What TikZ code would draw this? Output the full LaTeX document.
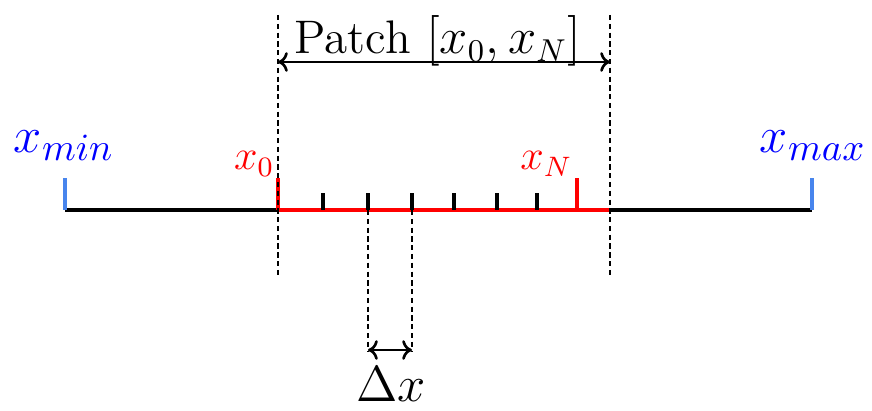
\documentclass[tikz,border=0pt]{standalone}
\usetikzlibrary{positioning,arrows.meta}
\definecolor{tickblue}{RGB}{72,133,237}
\tikzset{
  bound/.style={text=blue, font=\fontsize{15.6}{18}\selectfont},
  patchlab/.style={text=red, inner sep=0pt, font=\fontsize{11.8}{14}\selectfont},
  biglab/.style={font=\fontsize{13.4}{16}\selectfont},
  guide/.style={line width=0.4pt, dash pattern=on 1.5pt off 1pt},
  span/.style={<->, line width=0.75pt},
}
\begin{document}
\begin{tikzpicture}[>={Computer Modern Rightarrow[length=2.8pt, width=5.6pt]}]
    \useasboundingbox (0,0) rectangle (8.72,4.10);

    % whole domain
    \coordinate (xl) at (0.65,2);
    \coordinate (xr) at (8.12,2);
    \draw[line width=1pt] (xl) -- (xr);
    \draw[line width=1pt, tickblue] (xl) -- ++(0,0.32) coordinate (xlt);
    \draw[line width=1pt, tickblue] (xr) -- ++(0,0.32) coordinate (xrt);
    \node[bound, anchor=base] (xmin) at (0.64,2.57) {$x_{min}$};
    \node[bound, anchor=base] (xmax) at (8.13,2.57) {$x_{max}$};

    % grid points of the patch
    \foreach \x [count=\i from 0] in {2.78,3.23,3.68,4.12,4.54,4.97,5.37,5.77}
        \coordinate (g\i) at (\x,2);
    \coordinate (pe) at (6.10,2);
    \draw[line width=1pt, red] (g0) -- (pe);
    \draw[line width=1pt, red] (g0) -- ++(0,0.32);
    \draw[line width=1pt, red] (g7) -- ++(0,0.32);
    \foreach \i in {1,...,6}
        \draw[line width=1pt] (g\i) -- ++(0,0.17);
    \node[patchlab, anchor=base east] (x0) at (2.75,2.40) {$x_0$};
    \node[patchlab, anchor=base east] (xN) at (5.73,2.40) {$x_N$};

    % patch extent
    \coordinate (t0) at (2.78,3.95);
    \coordinate (b0) at (2.78,1.32);
    \coordinate (t1) at (6.10,3.95);
    \coordinate (b1) at (6.10,1.32);
    \draw[guide] (t0) -- (b0);
    \draw[guide] (t1) -- (b1);
    \coordinate (pa) at (2.78,3.48);
    \coordinate (pb) at (6.10,3.48);
    \draw[span] (pa) -- (pb);
    \node[biglab, anchor=base] (patch) at (4.38,3.56) {Patch $[x_0,x_N]$};

    % grid spacing
    \coordinate (d2) at (3.68,0.58);
    \coordinate (d3) at (4.12,0.58);
    \draw[guide] (g2) -- (d2);
    \draw[guide] (g3) -- (d3);
    \coordinate (da) at (3.68,0.60);
    \coordinate (db) at (4.12,0.60);
    \draw[span] (da) -- (db);
    \node[biglab, anchor=base] (dx) at (3.91,0.08) {$\Delta x$};
\end{tikzpicture}
\end{document}
